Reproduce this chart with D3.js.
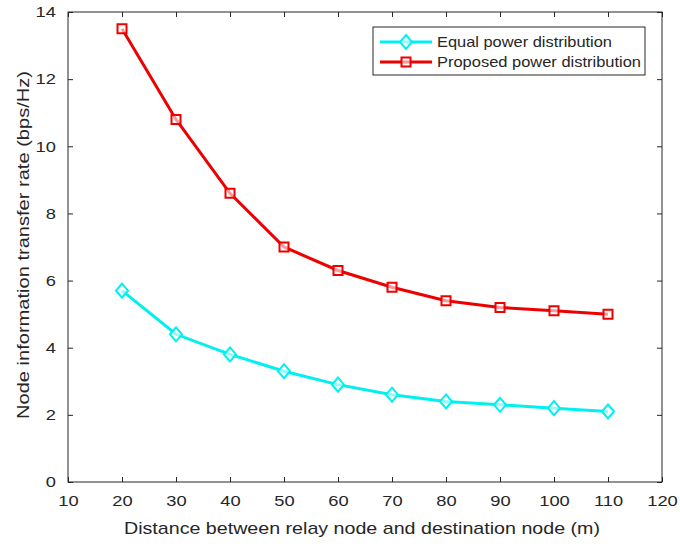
<!DOCTYPE html>
<html><head><meta charset="utf-8">
<script src="https://cdn.jsdelivr.net/npm/d3@7"></script>
<style>body{margin:0;background:#fff}svg{display:block}text{font-family:"Liberation Sans",Arial,sans-serif;fill:#262626}</style>
</head><body><svg id="c" width="680" height="546"></svg>
<script>
const distances = [20,30,40,50,60,70,80,90,100,110];
const equalPower = [5.7,4.4,3.8,3.3,2.9,2.6,2.4,2.3,2.2,2.1];
const proposedPower = [13.5,10.8,8.6,7.0,6.3,5.8,5.4,5.2,5.1,5.0];
const xTicks = [10,20,30,40,50,60,70,80,90,100,110,120];
const yTicks = [0,2,4,6,8,10,12,14];
const seriesNames = ["Equal power distribution","Proposed power distribution"];

const svg = d3.select("#c");
const L=68, R=662, T=12, B=482;
const x = d3.scaleLinear().domain([10,120]).range([L,R]);
const y = d3.scaleLinear().domain([0,14]).range([B,T]);
const axisCol="#262626";

svg.append("rect").attr("x",L).attr("y",T).attr("width",R-L).attr("height",B-T)
  .attr("fill","none").attr("stroke",axisCol).attr("stroke-width",1);

const gx = svg.append("g").attr("transform",`translate(0,${B})`)
  .call(d3.axisBottom(x).tickValues(xTicks).tickSizeInner(-5).tickSizeOuter(0).tickPadding(13));
const gxt = svg.append("g").attr("transform",`translate(0,${T})`)
  .call(d3.axisTop(x).tickValues(xTicks).tickSizeInner(-5).tickSizeOuter(0).tickFormat(""));
const gy = svg.append("g").attr("transform",`translate(${L},0)`)
  .call(d3.axisLeft(y).tickValues(yTicks).tickSizeInner(-5).tickSizeOuter(0).tickPadding(10));
const gyr = svg.append("g").attr("transform",`translate(${R},0)`)
  .call(d3.axisRight(y).tickValues(yTicks).tickSizeInner(-5).tickSizeOuter(0).tickFormat(""));
[gx,gxt,gy,gyr].forEach(g=>{
  g.select(".domain").remove();
  g.selectAll("line").attr("stroke",axisCol);
  g.selectAll("text").attr("font-size",15).attr("fill","#262626")
    .attr("font-family","Liberation Sans, Arial, sans-serif")
    .attr("transform","scale(1.22,1)");
});

svg.append("text").attr("x",362).attr("y",534).attr("text-anchor","middle")
  .attr("font-size",17).attr("textLength",476).attr("lengthAdjust","spacingAndGlyphs")
  .text("Distance between relay node and destination node (m)");
svg.append("text").attr("transform",`translate(29,245) rotate(-90)`).attr("text-anchor","middle")
  .attr("font-size",17).attr("textLength",348).attr("lengthAdjust","spacingAndGlyphs")
  .text("Node information transfer rate (bps/Hz)");

const line = d3.line().x(d=>x(d[0])).y(d=>y(d[1]));
const cyan="#00f0f0", red="#ee0000";
const dEq = distances.map((d,i)=>[d,equalPower[i]]);
const dPr = distances.map((d,i)=>[d,proposedPower[i]]);

function drawSeries(data,color,shape){
  svg.append("path").datum(data).attr("d",line).attr("fill","none").attr("stroke",color).attr("stroke-width",3);
  svg.selectAll(null).data(data).enter().append("path")
    .attr("transform",d=>`translate(${x(d[0])},${y(d[1])})`)
    .attr("d",shape).attr("fill","#fff").attr("fill-opacity",0.6).attr("stroke",color).attr("stroke-width",2);
}
const diamond = "M0,-7L6,0L0,7L-6,0Z";
const square = "M-4.5,-4.5H4.5V4.5H-4.5Z";
drawSeries(dEq,cyan,diamond);
drawSeries(dPr,red,square);

// legend
const lg = svg.append("g");
lg.append("rect").attr("x",373).attr("y",27).attr("width",272).attr("height",48)
  .attr("fill","#fff").attr("stroke",axisCol).attr("stroke-width",1);
const rows=[{c:cyan,s:diamond},{c:red,s:square}];
const legendWidths=[175,204];
rows.forEach((r,i)=>{
  const yy = 42+i*20;
  lg.append("line").attr("x1",380).attr("x2",432).attr("y1",yy).attr("y2",yy).attr("stroke",r.c).attr("stroke-width",3);
  lg.append("path").attr("transform",`translate(406,${yy})`).attr("d",r.s).attr("fill","#fff").attr("fill-opacity",0.6).attr("stroke",r.c).attr("stroke-width",2);
  lg.append("text").attr("x",437).attr("y",yy+5).attr("font-size",14.5)
    .attr("textLength",legendWidths[i]).attr("lengthAdjust","spacingAndGlyphs").text(seriesNames[i]);
});
</script></body></html>
